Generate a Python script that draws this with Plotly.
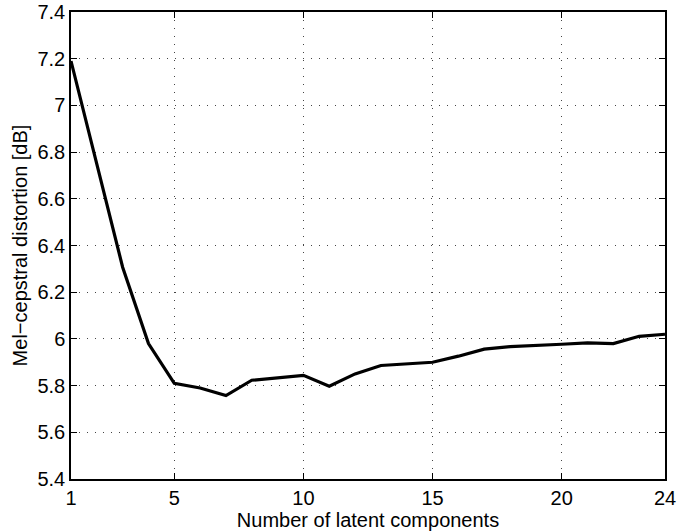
import plotly.graph_objects as go

components = list(range(1, 25))
distortion = [7.19, 6.75, 6.307, 5.98, 5.81, 5.79, 5.757, 5.823, 5.833, 5.844,
              5.797, 5.85, 5.886, 5.894, 5.90, 5.926, 5.956, 5.967, 5.971, 5.977,
              5.983, 5.98, 6.011, 6.02]

x_ticks = [1, 5, 10, 15, 20, 24]
y_ticks = [5.4, 5.6, 5.8, 6.0, 6.2, 6.4, 6.6, 6.8, 7.0, 7.2, 7.4]
y_ticktext = ["5.4", "5.6", "5.8", "6", "6.2", "6.4", "6.6", "6.8", "7", "7.2", "7.4"]

fig = go.Figure()
fig.add_trace(go.Scatter(x=components, y=distortion, mode="lines",
                         line=dict(color="black", width=3.2), showlegend=False))

font = dict(family="Liberation Sans, Arial, sans-serif", size=20, color="black")

grid = dict(showgrid=True, gridcolor="#444444", griddash="1px,7px", gridwidth=1.2)

fig.update_layout(
    width=677, height=532,
    margin=dict(l=71, r=12, t=12, b=53),
    paper_bgcolor="white", plot_bgcolor="white",
    font=font,
    xaxis=dict(
        range=[1, 24], tickvals=x_ticks, ticktext=[str(v) for v in x_ticks],
        zeroline=False, showline=True, linecolor="black", linewidth=1.5,
        mirror="ticks", ticks="inside", ticklen=6, tickcolor="black",
        title=dict(text="Number of latent components", standoff=4, font=font),
        automargin=False, tickfont=font, **grid,
    ),
    yaxis=dict(
        range=[5.4, 7.4], tickvals=y_ticks, ticktext=y_ticktext,
        zeroline=False, showline=True, linecolor="black", linewidth=1.5,
        mirror="ticks", ticks="inside", ticklen=6, tickcolor="black",
        title=dict(text="Mel\u2212cepstral distortion [dB]", standoff=4, font=font),
        automargin=False, tickfont=font, **grid,
    ),
)

fig.write_html("out.html")
